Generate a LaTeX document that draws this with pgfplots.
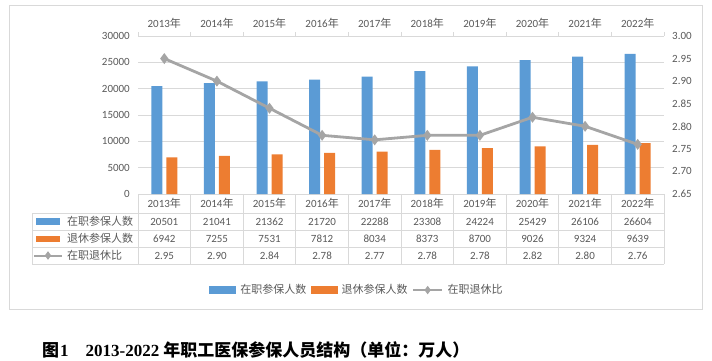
\documentclass[border=0pt]{standalone}
\usepackage{pgfplots}
\pgfplotsset{compat=1.18}
\usepackage{pgfplotstable}
\usepackage{fontspec}
\setmainfont{Carlito}
\newfontfamily\cjk{Noto Sans CJK SC}
\newfontfamily\capfont{Liberation Serif}
\definecolor{cblue}{HTML}{5B9BD5}
\definecolor{corange}{HTML}{ED7D31}
\definecolor{cgray}{HTML}{A5A5A5}
\definecolor{cgrid}{HTML}{D9D9D9}
\definecolor{ctext}{HTML}{595959}
\pgfplotsset{myline legend/.style={legend image code/.code={\draw[mark repeat=2, mark phase=2, ##1, line width=2pt, mark size=2.6pt] plot coordinates {(0pt,0pt)(14.5pt,0pt)(29pt,0pt)};}}}
\pgfplotstableread{
x yr work retire ratio
0 2013 20501 6942 2.95
1 2014 21041 7255 2.90
2 2015 21362 7531 2.84
3 2016 21720 7812 2.78
4 2017 22288 8034 2.77
5 2018 23308 8373 2.78
6 2019 24224 8700 2.78
7 2020 25429 9026 2.82
8 2021 26106 9324 2.80
9 2022 26604 9639 2.76
}\data
\newcommand\lbl{\fontsize{11}{13}\selectfont}
\begin{document}
\begin{tikzpicture}[x=1pt,y=1pt]
\path[use as bounding box] (0,0) rectangle (712,-361);
\draw[cgrid, line width=0.75pt] (9,-5) rectangle (702,-309);
% table borders
\foreach \k in {0,...,10} {\draw[cgrid, line width=0.75pt] ({138+52.6*\k},-194) -- ({138+52.6*\k},-264);}
\draw[cgrid, line width=0.75pt] (32,-213) -- (32,-264);
\foreach \yy in {213,230,247,264} {\draw[cgrid, line width=0.75pt] (32,-\yy) -- (664,-\yy);}
% main axis
\begin{axis}[at={(138pt,-194pt)}, anchor=south west, scale only axis,
  width=526pt, height=158pt, xmin=-0.5, xmax=9.5, ymin=0, ymax=30000,
  ytick={0,5000,...,30000}, scaled y ticks=false, axis x line*=top, axis y line*=left,
  x axis line style={cgrid, line width=0.75pt}, y axis line style={draw=none},
  xtick={0,...,9},
  xticklabels={2013{\cjk 年},2014{\cjk 年},2015{\cjk 年},2016{\cjk 年},2017{\cjk 年},2018{\cjk 年},2019{\cjk 年},2020{\cjk 年},2021{\cjk 年},2022{\cjk 年}},
  minor xtick={-0.5,0.5,...,9.5}, major tick length=0pt, minor tick length=4pt,
  tick align=outside, tick style={cgrid, line width=0.75pt},
  ymajorgrids, grid style={cgrid, line width=0.75pt},
  every tick label/.append style={font=\lbl, text=ctext},
  /pgf/number format/assume math mode=true,
  yticklabel style={anchor=east, inner sep=0pt, xshift=-8pt, /pgf/number format/fixed, /pgf/number format/precision=0, /pgf/number format/1000 sep={}},
  xticklabel style={anchor=center, inner sep=0pt, yshift=12.5pt},
  clip=false]
\addplot[ybar, bar width=11pt, bar shift=-7.5pt, fill=cblue, draw=none] table[x=x, y=work]{\data};
\addplot[ybar, bar width=11pt, bar shift=7.5pt, fill=corange, draw=none] table[x=x, y=retire]{\data};
\end{axis}
% right axis
\begin{axis}[at={(138pt,-194pt)}, anchor=south west, scale only axis,
  width=526pt, height=158pt, xmin=-0.5, xmax=9.5, ymin=2.65, ymax=3.0,
  axis x line=none, axis y line*=right, y axis line style={draw=none},
  ytick={2.65,2.7,2.75,2.8,2.85,2.9,2.95,3.0}, major tick length=0pt,
  every tick label/.append style={font=\lbl, text=ctext},
  /pgf/number format/assume math mode=true,
  yticklabel style={anchor=west, inner sep=0pt, xshift=8pt, /pgf/number format/fixed, /pgf/number format/fixed zerofill, /pgf/number format/precision=2},
  clip=false,
  legend columns=3,
  legend style={draw=none, fill=none, at={(0.4145,-0.608)}, anchor=center,
    column sep=4.5pt, nodes={inner sep=0pt, text=ctext, font=\lbl}},
  ]
\addlegendimage{legend image code/.code={\fill[cblue] (0pt,-3.5pt) rectangle (26pt,3.5pt);}}
\addlegendentry{\cjk 在职参保人数}
\addlegendimage{legend image code/.code={\fill[corange] (0pt,-3.5pt) rectangle (26pt,3.5pt);}}
\addlegendentry{\cjk 退休参保人数}
\addplot[cgray, line width=2.8pt, mark=diamond*, mark size=3.2pt, mark options={solid}, myline legend]
  table[x=x, y=ratio]{\data};
\addlegendentry{\cjk 在职退休比}
\end{axis}
% data table
\begin{axis}[at={(138pt,-264pt)}, anchor=south west, scale only axis,
  width=526pt, height=70pt, xmin=-0.5, xmax=9.5, ymin=0, ymax=70, y dir=reverse,
  hide axis, clip=false, point meta=explicit symbolic,
  every node near coord/.style={anchor=center, inner sep=0pt, text=ctext, font=\lbl}]
\addplot[draw=none, mark=none, nodes near coords={\pgfplotspointmeta{\cjk 年}}] table[x=x, y expr=9.5, meta=yr]{\data};
\addplot[draw=none, mark=none, nodes near coords] table[x=x, y expr=27.5, meta=work]{\data};
\addplot[draw=none, mark=none, nodes near coords] table[x=x, y expr=44.5, meta=retire]{\data};
\addplot[draw=none, mark=none, nodes near coords] table[x=x, y expr=61.5, meta=ratio]{\data};
\fill[cblue] (axis cs:-2.439,24.5) rectangle (axis cs:-1.983,30.5);
\fill[corange] (axis cs:-2.439,41.5) rectangle (axis cs:-1.983,47.5);
\addplot[cgray, line width=2pt, mark=diamond*, mark size=2.6pt, mark indices={2}] coordinates {(-2.477,61.5)(-2.211,61.5)(-1.945,61.5)};
\node[anchor=west, inner sep=0pt, text=ctext, font=\lbl] at (axis cs:-1.85,27.5) {\cjk 在职参保人数};
\node[anchor=west, inner sep=0pt, text=ctext, font=\lbl] at (axis cs:-1.85,44.5) {\cjk 退休参保人数};
\node[anchor=west, inner sep=0pt, text=ctext, font=\lbl] at (axis cs:-1.85,61.5) {\cjk 在职退休比};
\end{axis}
% caption
\node[anchor=west, inner sep=0pt] at (42,-350) {\fontsize{17}{17}\selectfont\bfseries{\cjk 图}\hspace{1pt}{\capfont 1}\hspace{17pt}{\capfont 2013-2022}\hspace{4pt}{\cjk 年职工医保参保人员结构（单位：万人）}};
\end{tikzpicture}
\end{document}
